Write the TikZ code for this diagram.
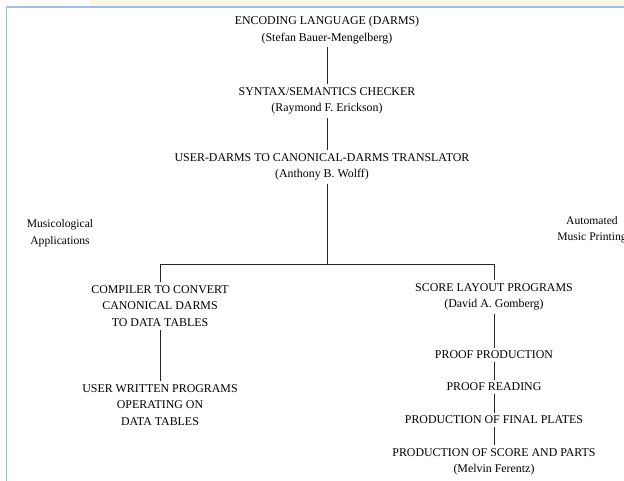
\documentclass[tikz,border=0pt]{standalone}
\usepackage{fontspec}
\setmainfont{Liberation Serif}
\definecolor{strip}{HTML}{FBF7E3}
\definecolor{rim}{HTML}{A3C0E4}
\begin{document}
\begin{tikzpicture}[x=1pt,y=-1pt,every node/.style={align=center,inner sep=3pt,font=\fontsize{11.9}{16.5}\selectfont},link/.style={draw=black!85,line width=0.8pt}]
          \useasboundingbox (0,0) rectangle (624,481);
          \fill [strip] (90,0) rectangle (624,6.4);
          \draw [rim,line width=1.6pt] (6.6,481) -- (6.6,7.2) -- (624,7.2);

          \node (enc) at (327,30) {ENCODING LANGUAGE (DARMS)\\(Stefan Bauer-Mengelberg)};
          \node (syn) at (327,101) {SYNTAX/SEMANTICS CHECKER\\(Raymond F. Erickson)};
          \node (trans) at (322,167) {USER-DARMS TO CANONICAL-DARMS TRANSLATOR\\(Anthony B. Wolff)};
          \coordinate (split) at (327,264);
          \coordinate (lbr) at (160,264);
          \coordinate (rbr) at (494,264);

          \node (comp) at (160,306) {COMPILER TO CONVERT\\CANONICAL DARMS\\TO DATA TABLES};
          \node (user) at (160,405) {USER WRITTEN PROGRAMS\\OPERATING ON\\DATA TABLES};

          \node (score) at (494,297) {SCORE LAYOUT PROGRAMS\\(David A. Gomberg)};
          \node (proofprod) at (494,355) {PROOF PRODUCTION};
          \node (proofread) at (494,387) {PROOF READING};
          \node (plates) at (494,420) {PRODUCTION OF FINAL PLATES};
          \node (parts) at (494,462) {PRODUCTION OF SCORE AND PARTS\\(Melvin Ferentz)};

          \node [font=\fontsize{11.6}{17.5}\selectfont] (musico) at (60,233) {Musicological\\Applications};
          \node [font=\fontsize{11.6}{16}\selectfont] (auto) at (592,230) {Automated\\Music Printing};

          \draw [link] (enc) -- (syn);
          \draw [link] (syn) -- (trans.north -| syn);
          \draw [link] (trans.south -| split) -- (split);
          \draw [link] (lbr) -- (rbr);
          \draw [link] (lbr) -- (comp);
          \draw [link] (rbr) -- (score);
          \draw [link] (comp) -- (user);
          \draw [link] (score) -- (proofprod);
          \draw [link] (proofprod) -- (proofread);
          \draw [link] (proofread) -- (plates);
          \draw [link] (plates) -- (parts);
        \end{tikzpicture}
\end{document}
